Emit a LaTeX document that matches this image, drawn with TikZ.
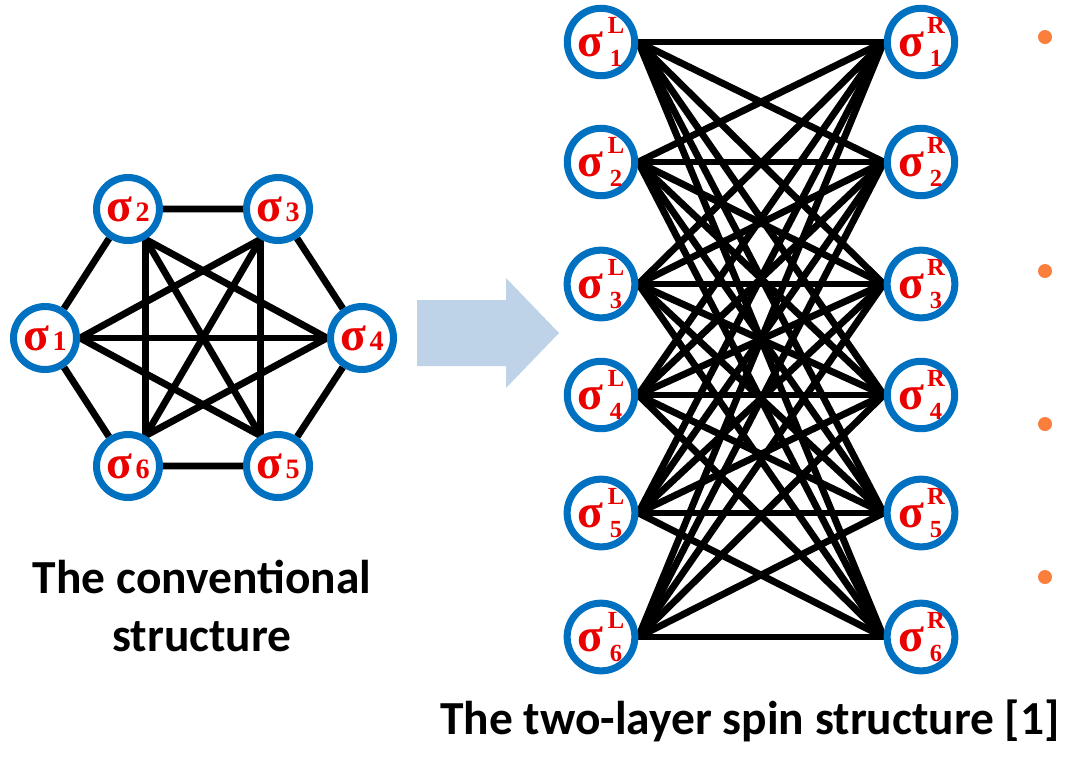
\documentclass[tikz,border=0pt]{standalone}
\usepackage{fontspec}
\setmainfont{Carlito}
\newfontfamily\spinfont{Liberation Serif}
\usepackage{xcolor}
\usepackage{tikz}
\usetikzlibrary{backgrounds}
\definecolor{SpinBlue}{RGB}{0,112,192}
\definecolor{SpinRed}{RGB}{235,0,0}
\definecolor{ShiftBlue}{RGB}{190,211,232}
\definecolor{DotOrange}{RGB}{250,126,60}
\tikzset{
  spin/.style={circle, draw=SpinBlue, line width=4pt, fill=white, minimum size=1.26cm,
    inner sep=0pt, text=SpinRed, font=\spinfont\bfseries},
  link/.style={line width=3.9pt, black},
  caption/.style={font=\bfseries\fontsize{27}{33.5}\selectfont, align=center},
  bulletdot/.style={circle, fill=DotOrange, draw=none, inner sep=0pt, minimum size=0.28cm},
}
\newcommand\spinone[1]{\fontsize{27}{27}\selectfont σ\kern2pt{\fontsize{16}{16}\selectfont #1}}
\newcommand\spintwo[2]{\fontsize{27}{27}\selectfont σ\kern2.5pt%
  \rlap{\raisebox{13pt}{\makebox[9pt][c]{\fontsize{14}{14}\selectfont #2}}}%
  \raisebox{-6pt}{\makebox[9pt][c]{\fontsize{14}{14}\selectfont #1}}}

\begin{document}
\begin{tikzpicture}[x=0.02cm, y=-0.02cm]
  \useasboundingbox (0,0) rectangle (1066,762);
  % conventional structure
  \node[spin] (s1) at (45,338)  {\spinone{1}};
  \node[spin] (s2) at (128,209) {\spinone{2}};
  \node[spin] (s3) at (278,209) {\spinone{3}};
  \node[spin] (s4) at (362,338) {\spinone{4}};
  \node[spin] (s5) at (278,466) {\spinone{5}};
  \node[spin] (s6) at (128,466) {\spinone{6}};
  \begin{scope}[on background layer]
    \draw[link] (s1) -- (s2) -- (s3) -- (s4) -- (s5) -- (s6) -- (s1);
    \draw[link] (s1.0) -- (s3.-120);
    \draw[link] (s1.0) -- (s4.180);
    \draw[link] (s1.0) -- (s5.120);
    \draw[link] (s2.-60) -- (s4.180);
    \draw[link] (s2.-60) -- (s5.120);
    \draw[link] (s2.-60) -- (s6.60);
    \draw[link] (s3.-120) -- (s5.120);
    \draw[link] (s3.-120) -- (s6.60);
    \draw[link] (s4.180) -- (s6.60);
  \end{scope}
  \node[caption] (conv) at (202,606) {The conventional\\structure};

  \fill[ShiftBlue] (417,300) -- (506,300) -- (506,278) -- (559,333)
    -- (506,388) -- (506,366) -- (417,366) -- cycle;

  % two-layer structure
  \foreach \y [count=\i] in {42,162,284,395,513,637} {
    \node[spin] (L\i) at (601,\y) {\spintwo{\i}{L}};
    \node[spin] (R\i) at (921,\y) {\spintwo{\i}{R}};
  }
  \begin{scope}[on background layer]
    \foreach \i in {1,...,6}
      \foreach \j in {1,...,6}
        \draw[link] (L\i.east) -- (R\j.west);
  \end{scope}
  \node[caption, anchor=base] (twolayer) at (750,734) {The two-layer spin structure [1]};

  \node[bulletdot] (b1) at (1045,37)  {};
  \node[bulletdot] (b2) at (1045,271) {};
  \node[bulletdot] (b3) at (1045,424) {};
  \node[bulletdot] (b4) at (1045,577) {};
\end{tikzpicture}
\end{document}
